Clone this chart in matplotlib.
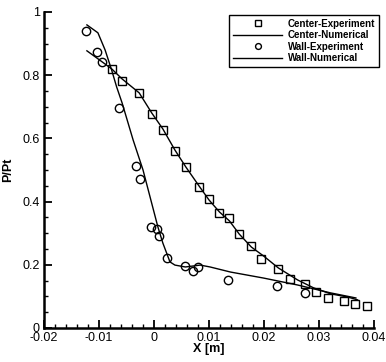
import matplotlib
matplotlib.use("Agg")
import matplotlib.pyplot as plt
import numpy as np
from matplotlib.ticker import MultipleLocator

plt.rcParams['font.family'] = ['Liberation Sans', 'DejaVu Sans']

# Center - experimento
centro_x = [-0.0077, -0.0058, -0.0027, -0.0004, 0.0016, 0.0038, 0.0058, 0.0082, 0.0100,
            0.0119, 0.0137, 0.0155, 0.0177, 0.0195, 0.0226, 0.0248, 0.0274, 0.0294,
            0.0316, 0.0345, 0.0365, 0.0387]
centro_y = [0.820, 0.782, 0.744, 0.677, 0.627, 0.560, 0.509, 0.446, 0.408,
            0.364, 0.348, 0.297, 0.259, 0.218, 0.187, 0.155, 0.139, 0.114,
            0.095, 0.085, 0.076, 0.070]

# Center - numerico
centro_num_x = [-0.0122, -0.0099, -0.0077, -0.0058, -0.0027, -0.0004, 0.0016, 0.0038, 0.0058,
                0.0082, 0.0100, 0.0119, 0.0137, 0.0155, 0.0177, 0.0199, 0.0226, 0.0261,
                0.0290, 0.0321, 0.0352, 0.0370]
centro_num_y = [0.877, 0.848, 0.820, 0.788, 0.744, 0.680, 0.630, 0.563, 0.509,
                0.449, 0.405, 0.367, 0.339, 0.297, 0.256, 0.228, 0.190, 0.152,
                0.127, 0.108, 0.098, 0.089]

# Wall - experimento
parede_x = [-0.0124, -0.0104, -0.0095, -0.0064, -0.0033, -0.0026, -0.0006, 0.0006, 0.0009,
            0.0024, 0.0057, 0.0071, 0.0080, 0.0135, 0.0223, 0.0274]
parede_y = [0.940, 0.873, 0.842, 0.696, 0.513, 0.472, 0.320, 0.313, 0.291,
            0.222, 0.196, 0.180, 0.193, 0.152, 0.133, 0.111]

# Wall - numerico
parede_num_x = [-0.0122, -0.0102, -0.0089, -0.0077, -0.0068, -0.0058, -0.0038, -0.0020, -0.0002,
                0.0007, 0.0016, 0.0029, 0.0038, 0.0057, 0.0084, 0.0102, 0.0139, 0.0199,
                0.0261, 0.0321, 0.0367]
parede_num_y = [0.959, 0.934, 0.880, 0.816, 0.763, 0.712, 0.595, 0.500, 0.380,
                0.320, 0.269, 0.209, 0.199, 0.193, 0.199, 0.193, 0.177, 0.158,
                0.136, 0.111, 0.095]

fig = plt.figure(figsize=(3.86, 3.62), dpi=100)
ax = fig.add_axes([0.114, 0.094, 0.855, 0.873])

ax.plot(centro_x, centro_y, 's', mfc='none', mec='black', ms=5.5, mew=1.0, label='Center-Experiment')
ax.plot(centro_num_x, centro_num_y, '-', color='black', lw=1.0, label='Center-Numerical')
ax.plot(parede_x, parede_y, 'o', mfc='none', mec='black', ms=6, mew=1.0, label='Wall-Experiment')
ax.plot(parede_num_x, parede_num_y, '-', color='black', lw=1.0, label='Wall-Numerical')

ax.set_xlim(-0.02, 0.04)
ax.set_ylim(0, 1)
ax.xaxis.set_minor_locator(MultipleLocator(0.002))
ax.yaxis.set_minor_locator(MultipleLocator(0.05))
ax.set_xticks([-0.02, -0.01, 0, 0.01, 0.02, 0.03, 0.04])
ax.set_xticklabels(['-0.02', '-0.01', '0', '0.01', '0.02', '0.03', '0.04'])
ax.set_yticks([0, 0.2, 0.4, 0.6, 0.8, 1])
ax.set_yticklabels(['0', '0.2', '0.4', '0.6', '0.8', '1'])

ax.spines['top'].set_visible(False)
ax.spines['right'].set_visible(False)
ax.spines['left'].set_linewidth(1.8)
ax.spines['bottom'].set_linewidth(1.8)
ax.tick_params(which='major', direction='in', length=6, width=1.3, labelsize=9, pad=3)
ax.tick_params(which='minor', direction='in', length=3, width=1.0)

ax.set_xlabel('X [m]', fontsize=9, fontweight='bold', labelpad=-1)
ax.set_ylabel('P/Pt', fontsize=9, fontweight='bold', labelpad=6)

leg = ax.legend(loc='upper right', bbox_to_anchor=(0.982, 0.959), bbox_transform=fig.transFigure,
                prop={'weight': 'bold', 'size': 7}, handlelength=5, handletextpad=0.6,
                labelspacing=0.15, borderpad=0.4, borderaxespad=0, markerscale=0.7,
                fancybox=False, framealpha=1)
leg.get_frame().set_edgecolor('black')
leg.get_frame().set_linewidth(1.0)

plt.savefig('out.png', dpi=100)
